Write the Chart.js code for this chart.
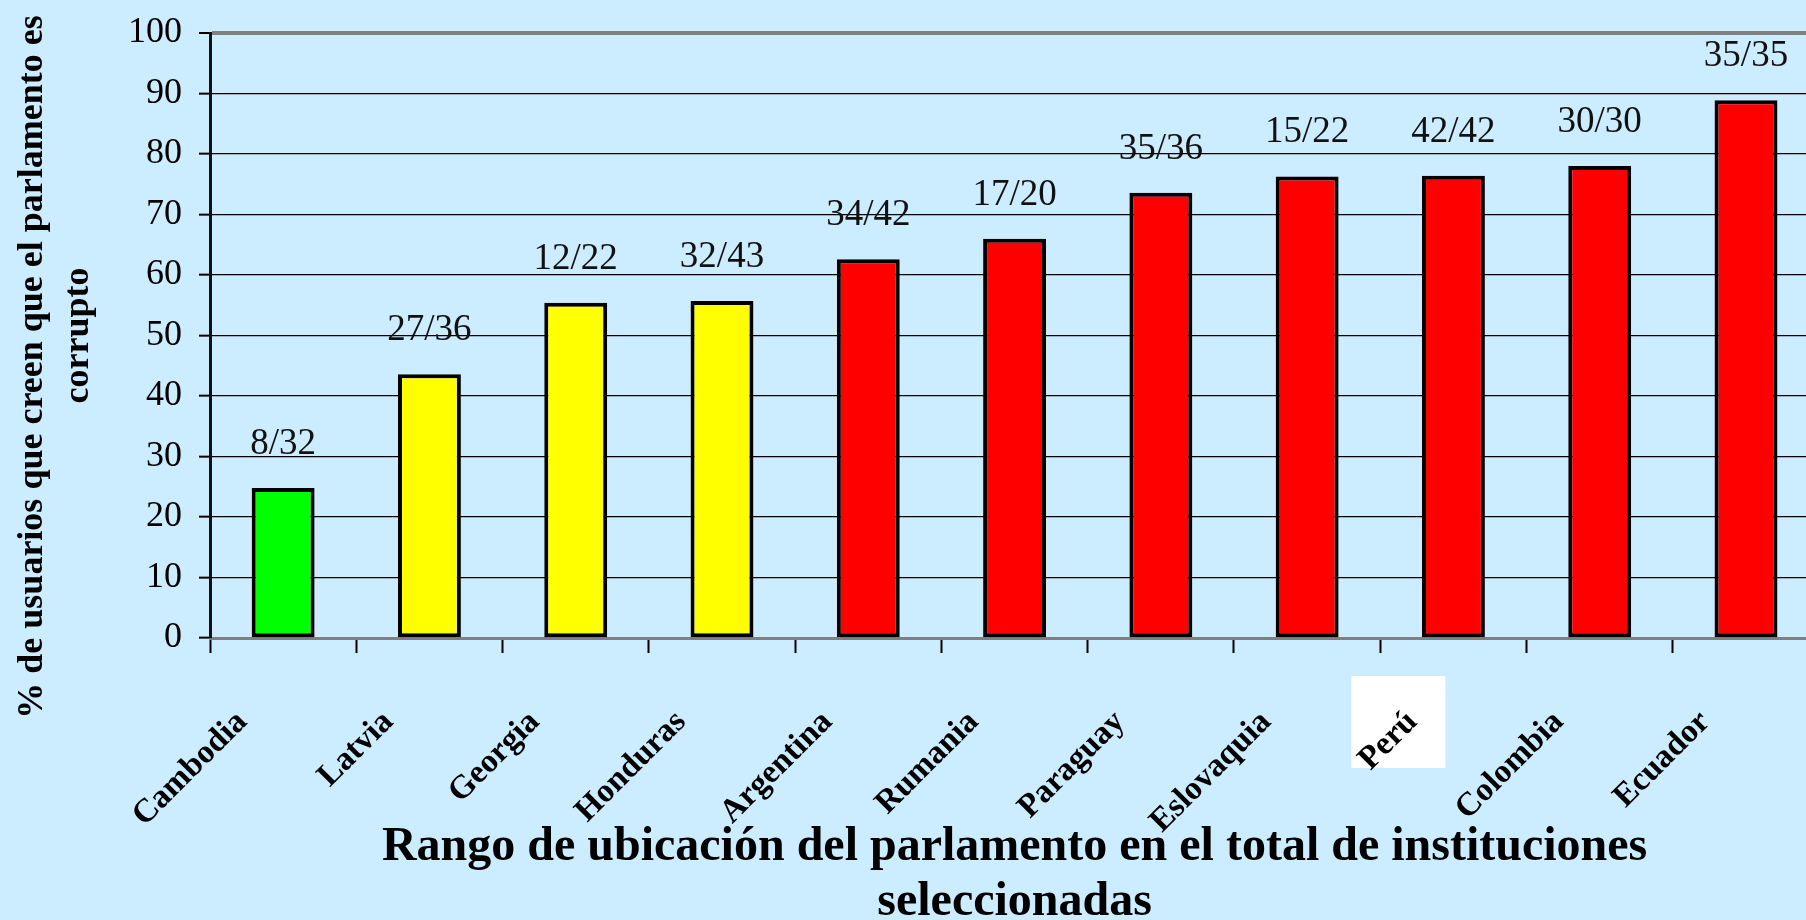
<!DOCTYPE html>
<html>
<head>
<meta charset="utf-8">
<script src="https://cdn.jsdelivr.net/npm/chart.js@4/dist/chart.umd.min.js"></script>
<style>
  html, body { margin: 0; padding: 0; background: #CCECFF; overflow: hidden; width: 1806px; height: 920px; }
  canvas { display: block; position: absolute; left: 0; top: 0; }
</style>
</head>
<body>
<canvas id="c" width="1824" height="920"></canvas>
<script>
const categories = ['Cambodia', 'Latvia', 'Georgia', 'Honduras', 'Argentina', 'Rumania', 'Paraguay', 'Eslovaquia', 'Perú', 'Colombia', 'Ecuador'];
const values = [24.8, 43.6, 55.4, 55.7, 62.6, 66.0, 73.6, 76.3, 76.4, 78.0, 88.9];
const rankLabels = ['8/32', '27/36', '12/22', '32/43', '34/42', '17/20', '35/36', '15/22', '42/42', '30/30', '35/35'];
const barColors = ['#00FF00', '#FFFF00', '#FFFF00', '#FFFF00', '#FF0000', '#FF0000', '#FF0000', '#FF0000', '#FF0000', '#FF0000', '#FF0000'];
const yTitleLines = ['% de usuarios que creen que el parlamento es', 'corrupto'];
const xTitleLines = ['Rango de ubicación del parlamento en el total de instituciones', 'seleccionadas'];

const SERIF = "'Liberation Serif', 'Times New Roman', serif";

const bgPlugin = {
  id: 'bg',
  beforeDraw(chart) {
    const ctx = chart.ctx;
    ctx.save();
    ctx.fillStyle = '#CCECFF';
    ctx.fillRect(0, 0, chart.width, chart.height);
    // white box behind the "Perú" label (image label in the original)
    const xs = chart.scales.x;
    const px = xs.getPixelForValue(8);
    ctx.fillStyle = '#FFFFFF';
    ctx.fillRect(px - 55 - 47, xs.top + 84 - 46, 94, 92);
    ctx.restore();
  }
};

const rankPlugin = {
  id: 'ranks',
  afterDatasetsDraw(chart) {
    const ctx = chart.ctx;
    const meta = chart.getDatasetMeta(0);
    ctx.save();
    ctx.font = '37px ' + SERIF;
    ctx.fillStyle = '#111';
    ctx.textAlign = 'center';
    ctx.textBaseline = 'alphabetic';
    meta.data.forEach((bar, i) => {
      ctx.fillText(rankLabels[i], bar.x, bar.y - 34);
    });
    ctx.restore();
  }
};

const yTitle = [yTitleLines[0] + '\u00A0\u00A0\u00A0\u00A0\u00A0\u00A0\u00A0', yTitleLines[1]];

new Chart(document.getElementById('c'), {
  type: 'bar',
  data: {
    labels: categories,
    datasets: [{
      data: values,
      backgroundColor: barColors,
      borderColor: '#000',
      borderWidth: 4,
      borderSkipped: false,
      barPercentage: 0.43,
      categoryPercentage: 1.0
    }]
  },
  options: {
    responsive: false,
    animation: false,
    devicePixelRatio: 1,
    layout: { padding: { top: 33, left: 0, right: 0, bottom: 0 } },
    plugins: {
      legend: { display: false },
      tooltip: { enabled: false },
      title: { display: false }
    },
    scales: {
      x: {
        afterFit(scale) { scale.height = 282; },
        offset: true,
        grid: {
          display: true,
          offset: true,
          drawOnChartArea: false,
          drawTicks: true,
          tickLength: 15,
          tickColor: '#000',
          tickWidth: 2
        },
        border: { display: true, color: '#808080', width: 3 },
        ticks: {
          minRotation: 45,
          maxRotation: 45,
          autoSkip: false,
          padding: 50,
          labelOffset: (c) => c.index === 8 ? -31 : -41,
          color: '#000',
          font: { family: SERIF, size: 33, weight: 'bold' }
        },
        title: {
          display: true,
          text: xTitleLines,
          color: '#000',
          font: { family: SERIF, size: 48, weight: 'bold', lineHeight: 1.15 },
          padding: { top: 0, bottom: -10 }
        }
      },
      y: {
        afterFit(scale) { scale.width = 210; scale.paddingTop = 0; scale.paddingBottom = 0; },
        min: 0,
        max: 100,
        ticks: {
          stepSize: 10,
          padding: 17,
          color: '#000',
          font: { family: SERIF, size: 36 }
        },
        grid: {
          color: (c) => (c.tick && c.tick.value === 100) ? '#808080' : '#000',
          lineWidth: (c) => (c.tick && c.tick.value === 100) ? 4 : 1.3,
          tickLength: 11,
          tickColor: '#000',
          tickWidth: 2
        },
        border: { display: true, color: '#111', width: 3 },
        title: {
          display: true,
          text: yTitle,
          color: '#000',
          font: { family: SERIF, size: 36, weight: 'bold', lineHeight: 1.278 },
          padding: { top: 10, bottom: 0 }
        }
      }
    }
  },
  plugins: [bgPlugin, rankPlugin]
});
</script>
</body>
</html>
